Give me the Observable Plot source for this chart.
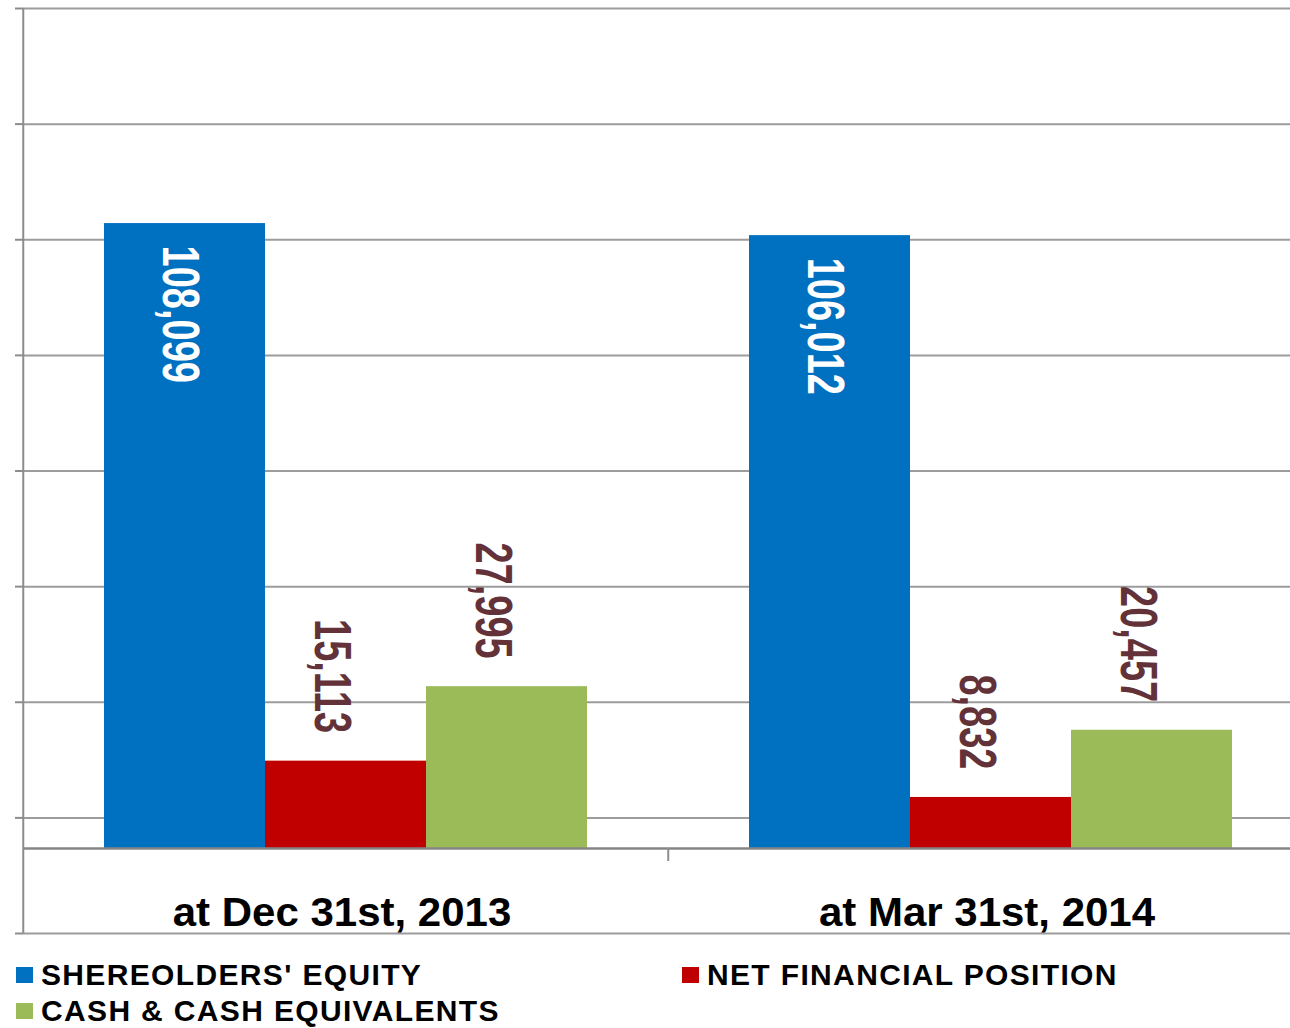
<!DOCTYPE html>
<html><head><meta charset="utf-8">
<script src="https://cdn.jsdelivr.net/npm/d3@7"></script>
<script src="https://cdn.jsdelivr.net/npm/@observablehq/plot@0.6"></script>
<style>
html,body{margin:0;padding:0;background:#fff;overflow:hidden;font-family:"Liberation Sans",Arial,sans-serif;}
#chart svg{display:block;overflow:hidden;}
#legend{display:grid;grid-template-columns:666px auto;padding-left:16px;margin-top:17px;}
.item{display:flex;align-items:center;height:36px;font-weight:bold;font-size:30px;letter-spacing:1.35px;color:#000;white-space:nowrap;}
.sw{width:17px;height:16px;margin-right:8px;flex:none;}
</style></head><body>
<div id="chart"></div>
<div id="legend"></div>
<script>
const categories = ["at Dec 31st, 2013", "at Mar 31st, 2014"];
const seriesNames = ["SHEREOLDERS' EQUITY", "NET FINANCIAL POSITION", "CASH & CASH EQUIVALENTS"];
const seriesColors = ["#0070c0", "#c00000", "#9bbb59"];
const equity = [108099, 106012];
const netFinancial = [15113, 8832];
const cash = [27995, 20457];
const gridValues = [-14700, 5300, 25300, 45300, 65300, 85300, 105300, 125300, 145300];

const seriesValues = [equity, netFinancial, cash];
const data = [];
categories.forEach((c, i) => seriesNames.forEach((s, j) => data.push({category: c, series: s, value: seriesValues[j][i]})));
const fmt = d3.format(",");

const W = 1290, H = 940, mL = 22, mR = -23, mT = 8, mB = 7;
const band = (W - mL - mR) / categories.length;
const labelFont = "'Liberation Sans', Arial, sans-serif";

const plot = Plot.plot({
  width: W, height: H,
  marginLeft: mL, marginRight: mR, marginTop: mT, marginBottom: mB,
  style: {fontFamily: labelFont, background: "#fff", overflow: "hidden"},
  fx: {domain: categories, padding: 0, axis: null},
  x: {domain: seriesNames, paddingInner: 0, paddingOuter: 0.5, axis: null},
  y: {domain: [gridValues[0], gridValues[gridValues.length - 1]]},
  color: {domain: seriesNames, range: seriesColors},
  marks: [
    Plot.ruleY(gridValues, {stroke: "#9c9c9c", strokeWidth: 2}),
    Plot.axisY({ticks: gridValues, tickSize: 8, tickFormat: () => "", label: null, stroke: "#8c8c8c", strokeWidth: 2}),
    Plot.barY(data, {fx: "category", x: "series", y: "value", fill: "series"}),
    Plot.ruleY([0], {stroke: "#868686", strokeWidth: 2.5}),
    Plot.ruleX([categories[0]], {fx: d => d, x: null, dx: -band / 2, stroke: "#8c8c8c", strokeWidth: 2}),
    Plot.ruleX([categories[1]], {fx: d => d, x: null, y1: 0, y2: 0, insetBottom: -13, dx: -band / 2, stroke: "#8c8c8c", strokeWidth: 2}),
    Plot.text(data.filter(d => d.series === seriesNames[0]), {
      fx: "category", x: "series", y: "value", text: d => fmt(d.value),
      rotate: 90, textAnchor: "start", lineAnchor: "middle", dy: 22, dx: -5,
      fill: "white", fontSize: 38, fontWeight: "bold"
    }),
    Plot.text(data.filter(d => d.series !== seriesNames[0]), {
      fx: "category", x: "series", y: "value", text: d => fmt(d.value),
      rotate: 90, textAnchor: "end", lineAnchor: "middle", dy: -28, dx: -14,
      fill: "#633239", fontSize: 38, fontWeight: "bold"
    }),
    Plot.text(categories, {
      fx: d => d, x: null, y: null, text: d => d, frameAnchor: "bottom",
      lineAnchor: "middle", dy: -20, dx: -4, fontSize: 40, fontWeight: "bold", fill: "#000"
    })
  ]
});

// Horizontal stretch of the labels, as in the reference picture
const valueTexts = new Set(data.map(d => fmt(d.value)));
const categoryTexts = new Set(categories);
plot.querySelectorAll("text").forEach(el => {
  const s = el.textContent;
  let extra = null;
  if (valueTexts.has(s)) extra = "scale(1,1.36)";
  else if (categoryTexts.has(s)) extra = "scale(1.05,1)";
  if (!extra) return;
  const t = el.getAttribute("transform");
  if (t) {
    el.setAttribute("transform", t + " " + extra);
  } else {
    const x = +(el.getAttribute("x") || 0), y = +(el.getAttribute("y") || 0);
    el.setAttribute("transform", `translate(${x},${y}) ${extra} translate(${-x},${-y})`);
  }
});

document.getElementById("chart").appendChild(plot);

const legend = document.getElementById("legend");
seriesNames.forEach((s, i) => {
  const item = document.createElement("div");
  item.className = "item";
  const sw = document.createElement("span");
  sw.className = "sw";
  sw.style.background = seriesColors[i];
  item.appendChild(sw);
  item.appendChild(document.createTextNode(s));
  legend.appendChild(item);
});
</script>
</body></html>
